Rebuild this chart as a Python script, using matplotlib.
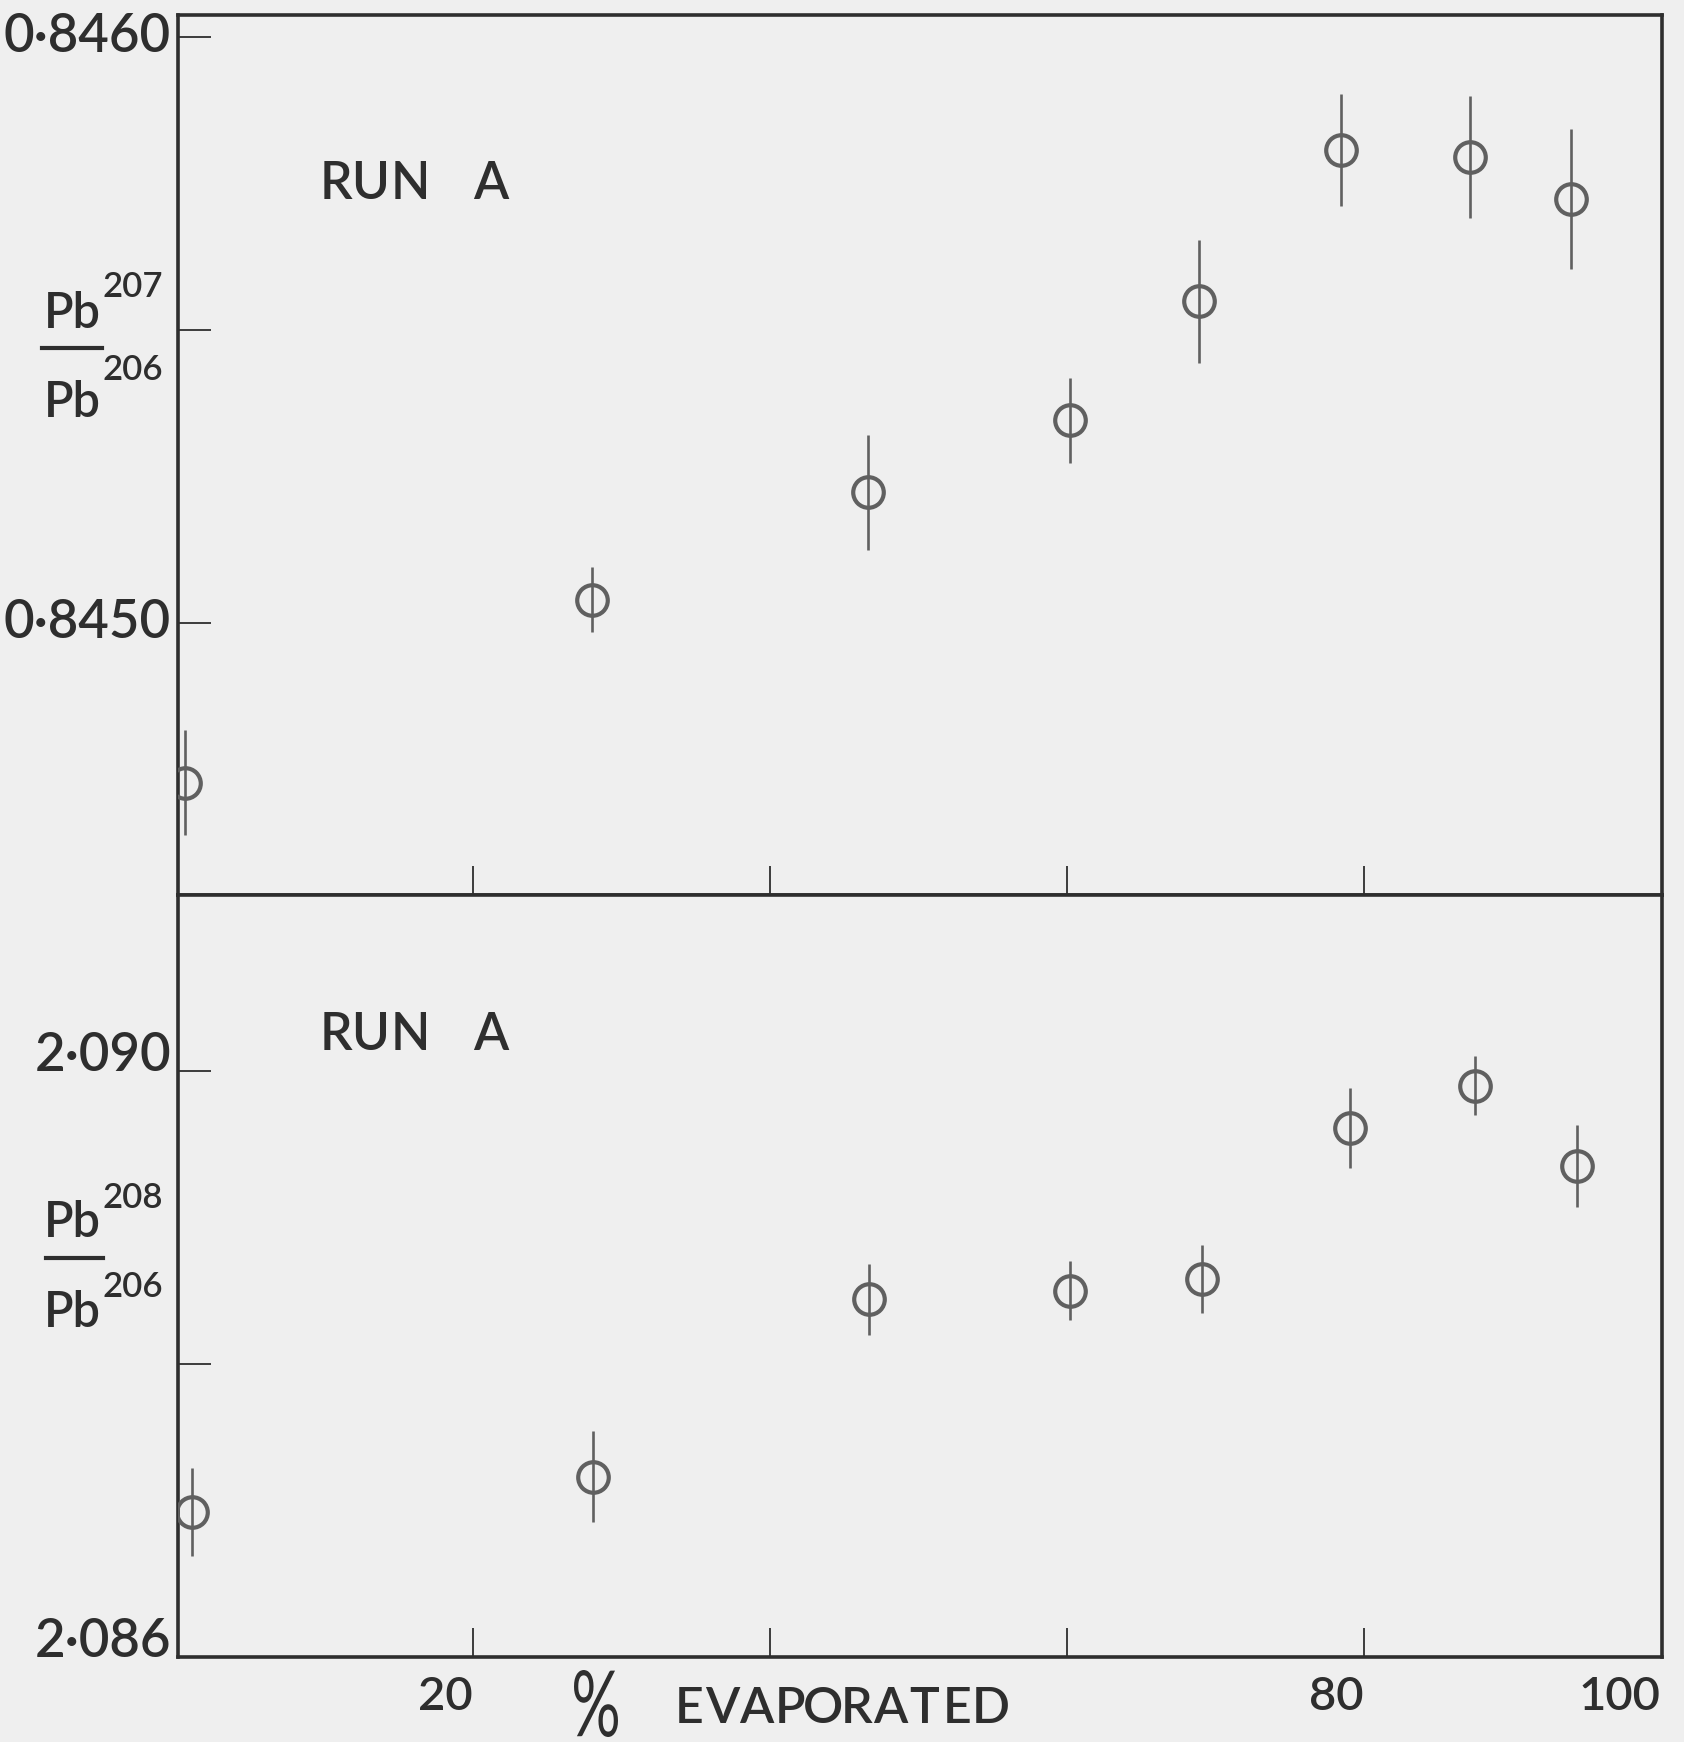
import matplotlib
matplotlib.use("Agg")
import matplotlib.pyplot as plt
from matplotlib.lines import Line2D
from matplotlib.textpath import TextPath
from matplotlib.patches import PathPatch
from matplotlib.font_manager import FontProperties
from matplotlib.transforms import Affine2D, IdentityTransform

# ---------------- data ----------------
pct_207 = [0.6, 28.0, 46.6, 60.2, 68.9, 78.5, 87.2, 94.0]
ratio_207 = [0.844727, 0.845039, 0.845222, 0.845345, 0.845548, 0.845807, 0.845795, 0.845723]
err_207 = [0.000090, 0.000055, 0.000098, 0.000073, 0.000105, 0.000096, 0.000104, 0.000120]

pct_208 = [1.1, 28.1, 46.7, 60.2, 69.1, 79.1, 87.5, 94.4]
ratio_208 = [2.08699, 2.08723, 2.08844, 2.08850, 2.08858, 2.08961, 2.08990, 2.08935]
err_208 = [0.00030, 0.00031, 0.00024, 0.00020, 0.00023, 0.00027, 0.00020, 0.00028]

yticks_207 = [0.8450, 0.8455, 0.8460]
yticklabels_207 = ["0·8450", "", "0·8460"]
yticks_208 = [2.086, 2.088, 2.090]
yticklabels_208 = ["2·086", "", "2·090"]
xticks = [20, 40, 60, 80, 100]
xticklabels = ["20", "", "", "80", "100"]
panel_title = "RUNA"
xlabel_word = "EVAPORATED"

# ---------------- style ----------------
W, H = 1684, 1742
BG = "#efefef"
INK = "#2e2e2e"
MARK = "#606060"
FONT = ["Lato", "DejaVu Sans"]
WEIGHT = "semibold"
plt.rcParams["font.family"] = FONT
plt.rcParams["font.weight"] = WEIGHT

fig = plt.figure(figsize=(W / 100, H / 100), dpi=100, facecolor=BG)


def fx(px):
    return px / W


def fy(py):
    return 1 - py / H


ax1 = fig.add_axes([fx(178), fy(895), (1662 - 178) / W, (895 - 15) / H])
ax2 = fig.add_axes([fx(178), fy(1657), (1662 - 178) / W, (1657 - 895) / H])

for ax in (ax1, ax2):
    ax.set_facecolor(BG)
    ax.set_xlim(0.15, 100.1)
    for s in ax.spines.values():
        s.set_color(INK)
        s.set_linewidth(2.6)
    ax.tick_params(axis="y", direction="in", length=24, width=1.3, color=INK,
                   labelsize=38, labelcolor=INK, pad=5, right=False)
    ax.tick_params(axis="x", direction="in", length=21, width=1.3, color=INK,
                   top=False)

ax1.set_ylim(0.844535, 0.846037)
ax2.set_ylim(2.08601, 2.09120)

# error bars + hollow circles
ax1.errorbar(pct_207, ratio_207, yerr=err_207, fmt="o", mfc="none", mec=MARK,
             ms=22, mew=3.0, ecolor=MARK, elinewidth=1.9, capsize=0, zorder=3)
ax2.errorbar(pct_208, ratio_208, yerr=err_208, fmt="o", mfc="none", mec=MARK,
             ms=22, mew=3.0, ecolor=MARK, elinewidth=1.9, capsize=0, zorder=3)

# ticks
ax1.set_yticks(yticks_207)
ax1.set_yticklabels(yticklabels_207)
ax2.set_yticks(yticks_208)
ax2.set_yticklabels(yticklabels_208)
for lab in ax1.get_yticklabels():
    lab.set_verticalalignment("center")
for lab in ax2.get_yticklabels():
    lab.set_verticalalignment("baseline")

ax1.set_xticks(xticks[:-1])
ax1.set_xticklabels([])
ax2.set_xticks(xticks)
ax2.set_xticklabels(xticklabels, fontsize=34, color=INK, ha="right")
ax2.tick_params(axis="x", pad=14)
ax2.get_xticklines()[-2].set_visible(False)

# panel titles (letter-spaced)
for ax, top_px, bot_px, base in ((ax1, 15, 895, 199), (ax2, 895, 1657, 1050)):
    for ch, cx in zip(panel_title, [336, 370, 410, 491]):
        ax.text((cx - 178) / (1662 - 178), (bot_px - base) / (bot_px - top_px), ch,
                transform=ax.transAxes, ha="center", va="baseline",
                fontsize=37, color=INK)


# fraction y labels
def fraction(num_sup, top_base, sup_base, bar_y, bot_base, sub_base, x0, bar_x0, bar_x1):
    fig.text(fx(x0), fy(top_base), "Pb", fontsize=35, color=INK, ha="left", va="baseline")
    fig.text(fx(x0 + 58), fy(sup_base), num_sup, fontsize=25, color=INK, ha="left", va="baseline")
    fig.add_artist(Line2D([fx(bar_x0), fx(bar_x1)], [fy(bar_y), fy(bar_y)], lw=3, color=INK))
    fig.text(fx(x0), fy(bot_base), "Pb", fontsize=35, color=INK, ha="left", va="baseline")
    fig.text(fx(x0 + 58), fy(sub_base), "206", fontsize=25, color=INK, ha="left", va="baseline")


fraction("207", 328, 297, 348, 417, 380, 44, 42, 102)
fraction("208", 1237, 1208, 1258, 1327, 1297, 44, 46, 103)

# x label: tall percent sign + letter-spaced word
tp = TextPath((0, 0), "%", size=100, prop=FontProperties(family=FONT, weight="normal"))
bb = tp.get_extents()
trans = (Affine2D().translate(-bb.x0, -bb.y0)
         .scale(44 / bb.width, 67 / bb.height)
         .translate(574, H - 1737) + IdentityTransform())
fig.add_artist(PathPatch(tp, transform=trans, fc=INK, ec="none"))

x_start, x_end = 672, 1008
step = (x_end - x_start) / len(xlabel_word)
for i, ch in enumerate(xlabel_word):
    fig.text(fx(x_start + (i + 0.5) * step), fy(1723), ch, fontsize=36, color=INK,
             ha="center", va="baseline")

fig.savefig("out.png", dpi=100, facecolor=BG)
